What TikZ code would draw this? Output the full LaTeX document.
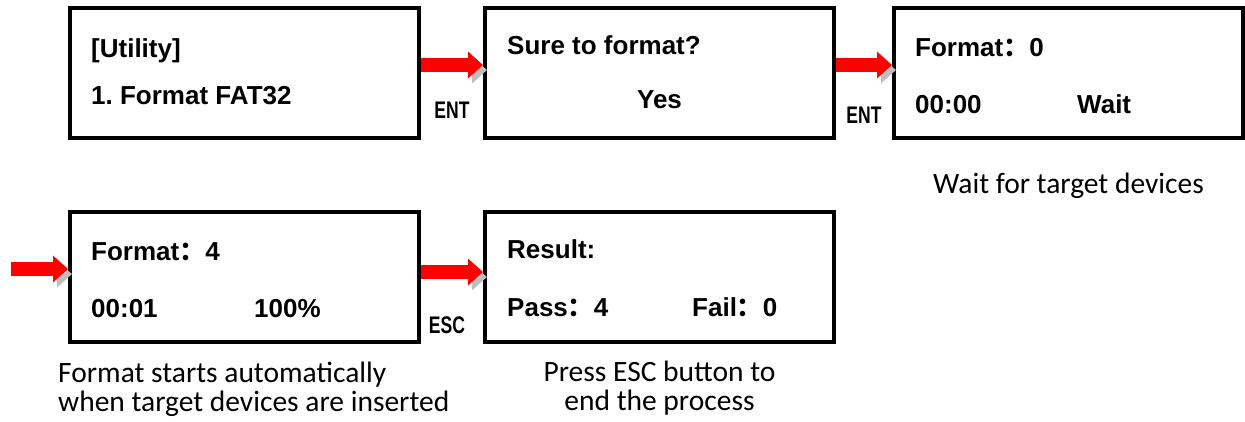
\documentclass[tikz,border=0pt]{standalone}
\usepackage{fontspec}
\setmainfont{Liberation Sans}
\newfontfamily\capfont{Carlito}
\newfontfamily\keyfont[FakeStretch=0.73]{Liberation Sans}
\newfontfamily\cjk{Noto Sans CJK SC}
\usetikzlibrary{arrows.meta,positioning}
\definecolor{keyred}{RGB}{255,0,0}
\definecolor{shadowgray}{RGB}{190,190,190}
\newcommand{\fwcolon}{{\cjk ：}}
\frenchspacing

\begin{document}
\begin{tikzpicture}[x=1pt, y=1pt,
    lcd/.style={rectangle, draw=black, line width=4pt, minimum width=349pt, minimum height=130pt, inner sep=0pt},
    lcdtext/.style={anchor=base west, inner sep=0pt, font=\fontsize{26}{30}\selectfont\bfseries},
    keylabel/.style={black, inner sep=0pt, font=\keyfont\fontsize{24}{28}\selectfont\bfseries},
    caption/.style={inner sep=0pt, font=\capfont\fontsize{29.5}{28.5}\selectfont},
    keyarrow/.style={-{Triangle[length=15pt, width=26pt]}, line width=14pt, keyred,
      preaction={draw=shadowgray, transform canvas={shift={(4pt,-5pt)}}}}]

    \useasboundingbox (0,0) rectangle (1245,-421);

    % the five screens
    \node[lcd] (utility) at (244.5,-73) {};
    \node[lcd, right=62pt of utility] (confirm) {};
    \node[lcd, right=56pt of confirm] (waiting) {};
    \node[lcd, below=70pt of utility] (progress) {};
    \node[lcd, right=62pt of progress] (result) {};

    \node[lcdtext] (utiltitle) at ([shift={(23,-51)}]utility.north west) {[Utility]};
    \node[lcdtext] (utilitem) at ([shift={(23,-98)}]utility.north west) {1. Format FAT32};
    \node[lcdtext] (asksure) at ([shift={(24,-48)}]confirm.north west) {Sure to format?};
    \node[lcdtext, anchor=base] (askyes) at ([yshift=-102]confirm.north) {Yes};
    \node[lcdtext] (waitcount) at ([shift={(23,-50)}]waiting.north west) {Format\fwcolon 0};
    \node[lcdtext] (waittime) at ([shift={(23,-107)}]waiting.north west) {00:00};
    \node[lcdtext] (waitstate) at ([shift={(185,-107)}]waiting.north west) {Wait};
    \node[lcdtext] (progcount) at ([shift={(23,-50)}]progress.north west) {Format\fwcolon 4};
    \node[lcdtext] (progtime) at ([shift={(23,-107)}]progress.north west) {00:01};
    \node[lcdtext] (progpct) at ([shift={(186,-107)}]progress.north west) {100\%};
    \node[lcdtext] (restitle) at ([shift={(24,-48)}]result.north west) {Result:};
    \node[lcdtext] (respass) at ([shift={(24,-106)}]result.north west) {Pass\fwcolon 4};
    \node[lcdtext] (resfail) at ([shift={(209,-106)}]result.north west) {Fail\fwcolon 0};

    % key arrows
    \coordinate (feed) at ([xshift=-57,yshift=8]progress.west);
    \draw[keyarrow] ([yshift=8]utility.east) -- ([yshift=8]confirm.west)
        node[keylabel, midway, below=30pt] (entone) {ENT};
    \draw[keyarrow] ([yshift=8]confirm.east) -- ([yshift=8]waiting.west)
        node[keylabel, midway, below=35pt] (enttwo) {ENT};
    \draw[keyarrow] (feed) -- ([yshift=8]progress.west);
    \draw[keyarrow] ([yshift=5]progress.east) -- ([yshift=5]result.west)
        node[keylabel, midway, below=38pt, xshift=-5pt] (esckey) {ESC};

    % notes
    \node[caption, anchor=base] (waitnote) at ([yshift=-53]waiting.south) {Wait for target devices};
    \node[caption, align=left, anchor=base west] (autonote) at ([shift={(-10,-67)}]progress.south west)
        {Format starts automatically\\when target devices are inserted};
    \node[caption, align=center, anchor=base] (escnote) at ([yshift=-66]result.south)
        {Press ESC button to\\end the process};
\end{tikzpicture}
\end{document}
